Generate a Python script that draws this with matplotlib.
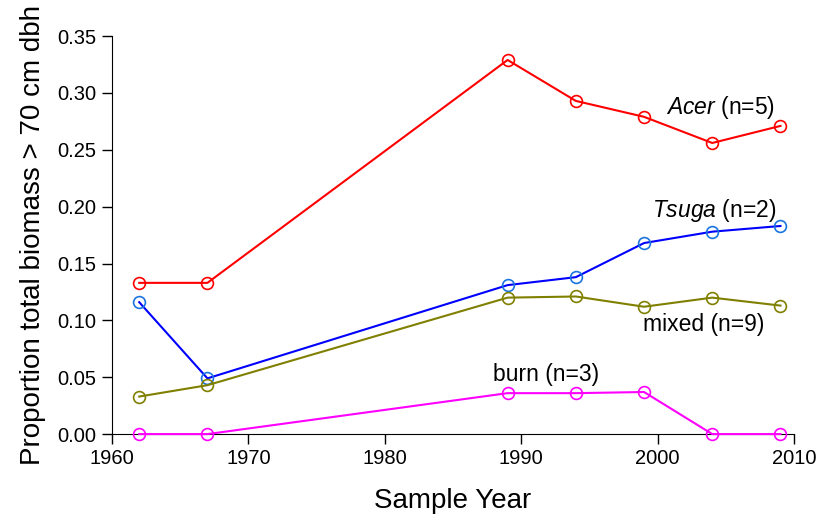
import matplotlib.pyplot as plt

plt.rcParams["font.family"] = ["Liberation Sans", "DejaVu Sans"]
plt.rcParams["mathtext.fontset"] = "custom"
plt.rcParams["mathtext.it"] = "Liberation Sans:italic"
plt.rcParams["mathtext.rm"] = "Liberation Sans"

years = [1962, 1967, 1989, 1994, 1999, 2004, 2009]
acer = [0.133, 0.133, 0.329, 0.293, 0.279, 0.256, 0.271]
tsuga = [0.116, 0.049, 0.131, 0.138, 0.168, 0.178, 0.183]
mixed = [0.033, 0.043, 0.120, 0.121, 0.112, 0.120, 0.113]
burn = [0.000, 0.000, 0.036, 0.036, 0.037, 0.000, 0.000]

fig = plt.figure(figsize=(8.17, 5.23), dpi=100)
ax = fig.add_axes([0.137, 0.170, 0.835, 0.761])

series = [
    (acer, "#ff0000", "#ff0000"),
    (tsuga, "#0000ff", "#1a74e0"),
    (mixed, "#808000", "#808000"),
    (burn, "#ff00ff", "#ff00ff"),
]
for vals, lc, mc in series:
    ax.plot(years, vals, color=lc, lw=1.5, marker="o", ms=8.5,
            mfc="none", mec=mc, mew=1.2, clip_on=False, zorder=3)

ax.set_xlim(1960, 2010)
ax.set_ylim(0, 0.35)
ax.set_xticks(range(1960, 2011, 10))
ax.set_yticks([0, 0.05, 0.10, 0.15, 0.20, 0.25, 0.30, 0.35])
ax.set_yticklabels([f"{v:.2f}" for v in ax.get_yticks()])
ax.tick_params(direction="out", length=7, width=1, labelsize=14.5, pad=4)
ax.spines["top"].set_visible(False)
ax.spines["right"].set_visible(False)

ax.set_xlabel("Sample Year", fontsize=20, labelpad=14)
ax.set_ylabel("Proportion total biomass > 70 cm dbh", fontsize=20, labelpad=8)

ax.text(2008.6, 0.287, r"$\mathit{Acer}$ (n=5)", fontsize=16.5, ha="right", va="center")
ax.text(2008.7, 0.197, r"$\mathit{Tsuga}$ (n=2)", fontsize=16.5, ha="right", va="center")
ax.text(2007.8, 0.096, "mixed (n=9)", fontsize=16.5, ha="right", va="center")
ax.text(1991.8, 0.052, "burn (n=3)", fontsize=16.5, ha="center", va="center")

plt.savefig("out.png", dpi=100)
